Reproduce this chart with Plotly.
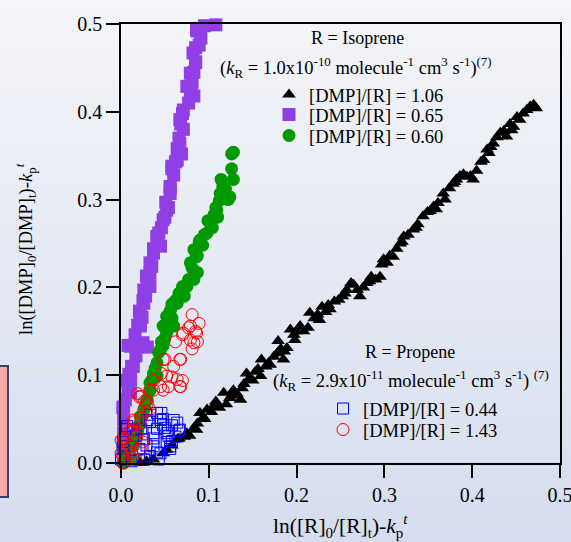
import plotly.graph_objects as go

# ---------------- data ----------------
tri_x = [0.022,0.029,0.037,0.048,0.052,0.058,0.064,0.066,0.072,0.075,0.078,0.083,0.086,0.087,0.090,0.094,0.098,0.103,0.105,0.109,
         0.112,0.117,0.120,0.124,0.128,0.132,0.136,0.140,0.143,0.146,0.150,0.153,0.159,0.160,0.165,0.170,0.174,0.178,0.179,0.182,
         0.185,0.189,0.193,0.197,0.200,0.204,0.208,0.213,0.215,0.220,0.224,0.229,0.233,0.238,0.243,0.248,0.252,0.257,0.262,0.265,
         0.269,0.272,0.276,0.280,0.285,0.290,0.295,0.299,0.303,0.306,0.310,0.314,0.318,0.322,0.327,0.333,0.338,0.344,0.349,0.352,
         0.356,0.361,0.367,0.369,0.374,0.378,0.382,0.386,0.390,0.394,0.401,0.405,0.410,0.413,0.417,0.421,0.424,0.428,0.432,0.436,
         0.439,0.443,0.447,0.451,0.454,0.458,0.462,0.466,0.470,0.473,0.095,0.108,0.126,0.138,0.156,0.168,0.186,0.198,0.226,0.236,
         0.255,0.283,0.297,0.320,0.336,0.359,0.380,0.398,0.419,0.445]
tri_y = [0.000,0.002,0.004,0.011,0.015,0.020,0.027,0.028,0.030,0.034,0.031,0.040,0.038,0.045,0.057,0.052,0.061,0.058,0.064,0.064,
         0.063,0.080,0.067,0.074,0.083,0.079,0.072,0.090,0.102,0.096,0.094,0.104,0.099,0.118,0.110,0.112,0.121,0.125,0.139,0.130,
         0.118,0.131,0.152,0.146,0.150,0.156,0.150,0.154,0.171,0.165,0.169,0.178,0.172,0.175,0.184,0.186,0.190,0.197,0.205,0.203,
         0.197,0.190,0.200,0.205,0.212,0.209,0.212,0.232,0.228,0.236,0.235,0.244,0.250,0.258,0.260,0.266,0.272,0.281,0.286,0.287,
         0.292,0.296,0.307,0.300,0.313,0.318,0.323,0.327,0.329,0.326,0.323,0.333,0.343,0.345,0.357,0.360,0.364,0.371,0.376,0.378,
         0.372,0.386,0.383,0.394,0.391,0.398,0.402,0.406,0.408,0.404,0.050,0.070,0.077,0.085,0.107,0.114,0.127,0.140,0.163,0.180,
         0.193,0.207,0.226,0.252,0.268,0.289,0.320,0.327,0.353,0.379]

pur_x = [0.002,0.004,0.003,0.003,0.002,0.003,0.011,0.008,0.006,0.011,0.012,0.014,0.017,0.011,0.008,0.021,0.025,0.030,0.019,0.022,
         0.022,0.022,0.021,0.025,0.026,0.026,0.033,0.030,0.029,0.033,0.033,0.037,0.037,0.045,0.041,0.041,0.046,0.048,0.050,0.052,
         0.054,0.056,0.056,0.056,0.058,0.058,0.062,0.064,0.064,0.067,0.066,0.071,0.068,0.067,0.070,0.071,0.083,0.079,0.075,0.081,
         0.079,0.083,0.085,0.085,0.089,0.085,0.087,0.086,0.095,0.102,0.108,0.005,0.009,0.016,0.024,0.028,0.035,0.043,0.051,0.060,
         0.069,0.077,0.082,0.091]
pur_y = [0.016,0.031,0.034,0.049,0.063,0.064,0.080,0.083,0.094,0.095,0.110,0.110,0.122,0.133,0.134,0.134,0.137,0.132,0.157,0.156,
         0.159,0.171,0.173,0.185,0.182,0.197,0.201,0.209,0.213,0.216,0.228,0.239,0.244,0.247,0.256,0.258,0.268,0.277,0.280,0.288,
         0.291,0.307,0.313,0.315,0.335,0.338,0.343,0.345,0.358,0.364,0.370,0.380,0.386,0.391,0.398,0.402,0.418,0.421,0.429,0.433,
         0.444,0.445,0.456,0.457,0.476,0.473,0.492,0.493,0.498,0.501,0.499,0.072,0.101,0.146,0.166,0.190,0.224,0.262,0.297,0.328,
         0.352,0.410,0.467,0.484]

grn_x = [0.003,0.002,0.006,0.011,0.012,0.014,0.017,0.018,0.021,0.022,0.025,0.026,0.027,0.029,0.030,0.033,0.033,0.035,0.041,0.037,
         0.041,0.043,0.045,0.048,0.050,0.052,0.052,0.048,0.060,0.058,0.052,0.056,0.058,0.058,0.064,0.062,0.066,0.067,0.070,0.075,
         0.077,0.083,0.087,0.079,0.086,0.087,0.083,0.089,0.090,0.095,0.098,0.104,0.102,0.099,0.106,0.109,0.108,0.112,0.122,0.124,
         0.113,0.116,0.114,0.128,0.126,0.128,0.126,0.039,0.046,0.054,0.072,0.081,0.093,0.110,0.119]
grn_y = [0.000,0.000,0.008,0.004,0.020,0.019,0.031,0.034,0.043,0.053,0.055,0.061,0.063,0.071,0.072,0.083,0.091,0.094,0.099,0.102,
         0.114,0.126,0.129,0.134,0.142,0.148,0.154,0.156,0.156,0.165,0.167,0.173,0.178,0.181,0.182,0.185,0.193,0.194,0.201,0.201,
         0.209,0.209,0.217,0.228,0.235,0.236,0.243,0.252,0.254,0.260,0.262,0.268,0.273,0.276,0.283,0.288,0.291,0.299,0.300,0.303,
         0.307,0.315,0.323,0.323,0.335,0.354,0.352,0.108,0.138,0.160,0.190,0.222,0.248,0.280,0.312]

blu_x = [0.000,0.004,0.012,0.026,0.027,0.043,0.033,0.045,0.041,0.056,0.021,0.003,0.037,0.056,0.029,0.052,0.002,0.026,0.037,0.054,
         0.017,0.052,0.037,0.066,0.067,0.014,0.006,0.041,0.023,0.007,0.048,0.058,0.064,0.033,0.045,0.060,0.030,0.033,0.041,0.046,
         0.048,0.062,0.058,0.050]
blu_y = [0.004,0.008,0.002,0.004,0.004,0.004,0.008,0.011,0.012,0.016,0.016,0.019,0.019,0.019,0.020,0.024,0.024,0.027,0.028,0.031,
         0.031,0.034,0.034,0.037,0.038,0.038,0.039,0.039,0.039,0.042,0.043,0.043,0.046,0.047,0.049,0.049,0.049,0.055,0.057,0.057,
         0.050,0.030,0.025,0.040]

red_x = [0.003,0.002,0.000,0.014,0.017,0.012,0.006,0.011,0.022,0.008,0.025,0.000,0.003,0.004,0.018,0.010,0.019,0.011,0.022,0.015,
         0.014,0.023,0.029,0.033,0.030,0.027,0.021,0.022,0.033,0.037,0.048,0.045,0.054,0.068,0.067,0.037,0.070,0.064,0.058,0.052,
         0.046,0.060,0.068,0.050,0.067,0.048,0.081,0.083,0.087,0.062,0.079,0.070,0.071,0.086,0.085,0.077,0.079,0.089,0.081,0.019]
red_y = [0.000,0.008,0.011,0.008,0.004,0.012,0.016,0.019,0.015,0.022,0.024,0.026,0.027,0.028,0.030,0.035,0.035,0.038,0.046,0.047,
         0.049,0.051,0.059,0.061,0.068,0.071,0.075,0.076,0.083,0.083,0.083,0.087,0.087,0.087,0.087,0.094,0.094,0.095,0.098,0.099,
         0.102,0.110,0.118,0.118,0.118,0.118,0.130,0.137,0.138,0.138,0.140,0.146,0.148,0.148,0.150,0.154,0.156,0.159,0.169,0.079]

tick_vals = [0.0, 0.1, 0.2, 0.3, 0.4, 0.5]
tick_text = ["0.0", "0.1", "0.2", "0.3", "0.4", "0.5"]

series = [
    ("[DMP]/[R] = 1.06", tri_x, tri_y, "triangle-up", 12, "black", None, "legend"),
    ("[DMP]/[R] = 0.65", pur_x, pur_y, "square", 13, "#8f3fe3", None, "legend2"),
    ("[DMP]/[R] = 0.60", grn_x, grn_y, "circle", 13, "#009a00", None, "legend3"),
    ("[DMP]/[R] = 0.44", blu_x, blu_y, "square-open", 11, "#0000ff", 1, "legend4"),
    ("[DMP]/[R] = 1.43", red_x, red_y, "circle-open", 12, "#ff0000", 1, "legend5"),
]

# ---------------- layout helpers ----------------
W, H = 571, 542
L, R, T, B = 121, 11, 24, 79
PW, PH = W - L - R, H - T - B

def px(xp):
    return (xp - L) / PW

def py(yp):
    return (H - B - yp) / PH

SERIF = "Liberation Serif, Times New Roman, serif"

fig = go.Figure()
for name, xs, ys, sym, size, col, lw, lg in series:
    mk = dict(symbol=sym, size=size, color=col)
    if lw:
        mk["line"] = dict(width=lw, color=col)
    else:
        mk["line"] = dict(width=0)
    fig.add_trace(go.Scatter(x=xs, y=ys, mode="markers", name=name, marker=mk,
                             cliponaxis=False, legend=lg, showlegend=True))

# background gradient
shapes = []
N = 40
top = (244, 245, 249)
bot = (213, 221, 238)
for i in range(N):
    f = (i + 0.5) / N
    c = tuple(int(round(top[k] + (bot[k] - top[k]) * f)) for k in range(3))
    y0p = H * i / N
    y1p = H * (i + 1) / N + 1
    shapes.append(dict(type="rect", xref="paper", yref="paper", layer="below",
                       x0=px(-5), x1=px(W + 5), y0=py(y1p), y1=py(y0p),
                       fillcolor="rgb(%d,%d,%d)" % c, line=dict(width=0)))
# pink box at left edge
shapes.append(dict(type="rect", xref="paper", yref="paper", layer="above",
                   x0=px(-4), x1=px(8), y0=py(497), y1=py(366),
                   fillcolor="#f9a7a7", line=dict(color="#2f4466", width=2)))

ann = []
def add_text(text, xp, yp, size=18, xanchor="center", angle=0):
    ann.append(dict(text=text, x=px(xp), y=py(yp), xref="paper", yref="paper",
                    showarrow=False, xanchor=xanchor, yanchor="middle", textangle=angle,
                    font=dict(family=SERIF, size=size, color="black")))

add_text("R = Isoprene", 357, 38)
add_text("(<i>k</i><sub>R</sub> = 1.0x10<sup>-10</sup> molecule<sup>-1</sup> cm<sup>3</sup> s<sup>-1</sup>)<sup>(7)</sup>", 356, 67, size=18.5)
add_text("R = Propene", 410, 352)
add_text("(<i>k</i><sub>R</sub> = 2.9x10<sup>-11</sup> molecule<sup>-1</sup> cm<sup>3</sup> s<sup>-1</sup>) <sup>(7)</sup>", 411, 380, size=18.5)
add_text("ln([R]<sub>0</sub>/[R]<sub>t</sub>)-<i>k</i><sub>p</sub><sup><i>t</i></sup>", 340, 526, size=21.5)
add_text("ln([DMP]<sub>0</sub>/[DMP]<sub>t</sub>)-<i>k</i><sub>p</sub><sup><i>t</i></sup>", 25, 249, size=18.5, angle=-90)

def leg(xp, yp):
    return dict(x=px(xp), y=py(yp), xanchor="left", yanchor="middle",
                bgcolor="rgba(0,0,0,0)", borderwidth=0,
                font=dict(family=SERIF, size=18.5, color="black"))

axis_common = dict(range=[0, 0.5], tickvals=tick_vals, ticktext=tick_text,
                   showgrid=False, zeroline=False, showline=True, linecolor="black",
                   linewidth=1.5, mirror=True, ticks="outside", ticklen=13, tickwidth=1.5,
                   tickcolor="black", automargin=False, ticklabeloverflow="allow",
                   tickfont=dict(family=SERIF, size=20, color="black"))

fig.update_layout(
    template="none",
    width=W, height=H,
    margin=dict(l=L, r=R, t=T, b=B, pad=0),
    paper_bgcolor="rgb(230,234,244)",
    plot_bgcolor="rgba(0,0,0,0)",
    xaxis=dict(**axis_common),
    yaxis=dict(**axis_common),
    shapes=shapes,
    annotations=ann,
    legend=leg(269, 95),
    legend2=leg(269, 115),
    legend3=leg(269, 136),
    legend4=leg(323, 409),
    legend5=leg(323, 430),
)

fig.write_html("out.html", config={"displayModeBar": False},
               post_script="document.body.style.margin='0';document.body.style.overflow='hidden';")
